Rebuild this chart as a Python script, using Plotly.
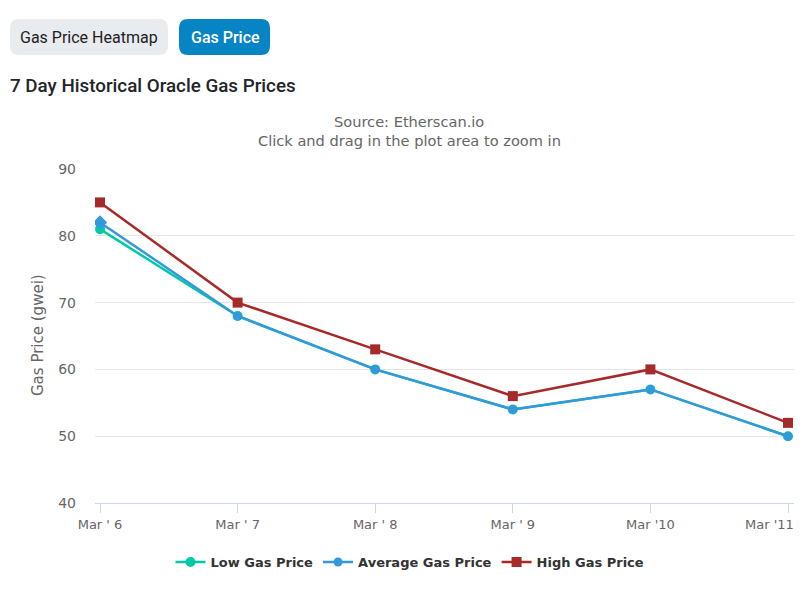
import plotly.graph_objects as go

# ---- data ----
dates = ["Mar ' 6", "Mar ' 7", "Mar ' 8", "Mar ' 9", "Mar '10", "Mar '11"]
low_gas = [81, 68, 60, 54, 57, 50]
avg_gas = [82, 68, 60, 54, 57, 50]
high_gas = [85, 70, 63, 56, 60, 52]
y_ticks = [40, 50, 60, 70, 80, 90]

W, H = 812, 591
PL, PR, PT, PB = 95, 794, 169, 503  # plot area in pixels


def px(x):
    return (x - PL) / (PR - PL)


def py(y):
    return (PB - y) / (PB - PT)


def rounded_rect(x0, y0, x1, y1, r):
    X0, X1 = px(x0), px(x1)
    Y0, Y1 = py(y0), py(y1)
    rx = r / (PR - PL)
    ry = r / (PB - PT)
    return (f"M {X0+rx},{Y0} L {X1-rx},{Y0} Q {X1},{Y0} {X1},{Y0-ry} "
            f"L {X1},{Y1+ry} Q {X1},{Y1} {X1-rx},{Y1} L {X0+rx},{Y1} "
            f"Q {X0},{Y1} {X0},{Y1+ry} L {X0},{Y0-ry} Q {X0},{Y0} {X0+rx},{Y0} Z")


xs = list(range(len(dates)))
fig = go.Figure()
fig.add_trace(go.Scatter(x=xs, y=low_gas, name="Low Gas Price", mode="lines+markers",
                         line=dict(color="#00c9a7", width=2.5),
                         marker=dict(symbol="circle", size=10, color="#00c9a7")))
fig.add_trace(go.Scatter(x=xs, y=avg_gas, name="Average Gas Price", mode="lines+markers",
                         line=dict(color="#3498db", width=2.5),
                         marker=dict(symbol="circle", size=9, color="#3498db")))
fig.add_trace(go.Scatter(x=xs[:1], y=avg_gas[:1], showlegend=False, mode="markers",
                         marker=dict(symbol="diamond", size=11, color="#3498db")))
fig.add_trace(go.Scatter(x=xs, y=high_gas, name="High Gas Price", mode="lines+markers",
                         line=dict(color="#a52a2a", width=2.5),
                         marker=dict(symbol="square", size=10, color="#a52a2a")))

per = (788 - 100) / 5
tick_text_axis = dates[:-1] + [""]  # last label is shifted inside the chart like the reference
fig.update_xaxes(range=[-(100 - PL) / per, 5 + (PR - 788) / per], automargin=False,
                 tickvals=xs, ticktext=tick_text_axis, showgrid=False, zeroline=False,
                 showline=True, linecolor="#ccd6eb", linewidth=1,
                 ticks="outside", ticklen=9, tickcolor="#ccd6eb", tickwidth=1,
                 tickfont=dict(family="DejaVu Sans", size=13, color="#666666"),
                 fixedrange=True)
fig.update_yaxes(range=[40, 90], tickvals=y_ticks, showgrid=True, gridcolor="#e6e6e6",
                 zeroline=False, showline=False, ticklabelstandoff=18, automargin=False,
                 tickfont=dict(family="DejaVu Sans", size=14, color="#666666"))

shapes = [
    dict(type="path", xref="paper", yref="paper", path=rounded_rect(10, 19, 168, 55, 9),
         fillcolor="#e9ecef", line=dict(width=0), layer="above"),
    dict(type="path", xref="paper", yref="paper", path=rounded_rect(179, 19, 270, 55, 9),
         fillcolor="#0784c3", line=dict(width=0), layer="above"),
]

annotations = [
    dict(text="Gas Price Heatmap", x=px(89), y=py(37), xref="paper", yref="paper",
         showarrow=False, xanchor="center", yanchor="middle",
         font=dict(family="Roboto", size=16, color="#1e2022")),
    dict(text="Gas Price", x=px(225), y=py(37), xref="paper", yref="paper",
         showarrow=False, xanchor="center", yanchor="middle",
         font=dict(family="Roboto", size=16, color="#ffffff", weight=500)),
    dict(text="7 Day Historical Oracle Gas Prices", x=px(8), y=py(86), xref="paper", yref="paper",
         showarrow=False, xanchor="left", yanchor="middle",
         font=dict(family="Roboto", size=18.8, color="#212529", weight=500)),
    dict(text="Source: Etherscan.io", x=px(409), y=py(121), xref="paper", yref="paper",
         showarrow=False, xanchor="center", yanchor="middle",
         font=dict(family="DejaVu Sans", size=14.6, color="#666666")),
    dict(text="Click and drag in the plot area to zoom in", x=px(409), y=py(140),
         xref="paper", yref="paper", showarrow=False, xanchor="center", yanchor="middle",
         font=dict(family="DejaVu Sans", size=14.6, color="#666666")),
    dict(text="Gas Price (gwei)", x=px(38), y=py(335), xref="paper", yref="paper",
         showarrow=False, xanchor="center", yanchor="middle", textangle=-90,
         font=dict(family="DejaVu Sans", size=15, color="#666666")),
    dict(text=dates[-1], x=px(796), y=py(515), xref="paper", yref="paper",
         showarrow=False, xanchor="right", yanchor="top",
         font=dict(family="DejaVu Sans", size=13, color="#666666")),
]

fig.update_layout(
    width=W, height=H,
    margin=dict(l=PL, r=W - PR, t=PT, b=H - PB, pad=0),
    paper_bgcolor="white", plot_bgcolor="white",
    shapes=shapes, annotations=annotations,
    legend=dict(orientation="h", x=px(410), y=py(562), xanchor="center", yanchor="middle",
                font=dict(family="DejaVu Sans", size=13, color="#333333", weight="bold"),
                itemwidth=30, tracegroupgap=0),
    showlegend=True,
)

fig.write_html("out.html", config={"displayModeBar": False})
